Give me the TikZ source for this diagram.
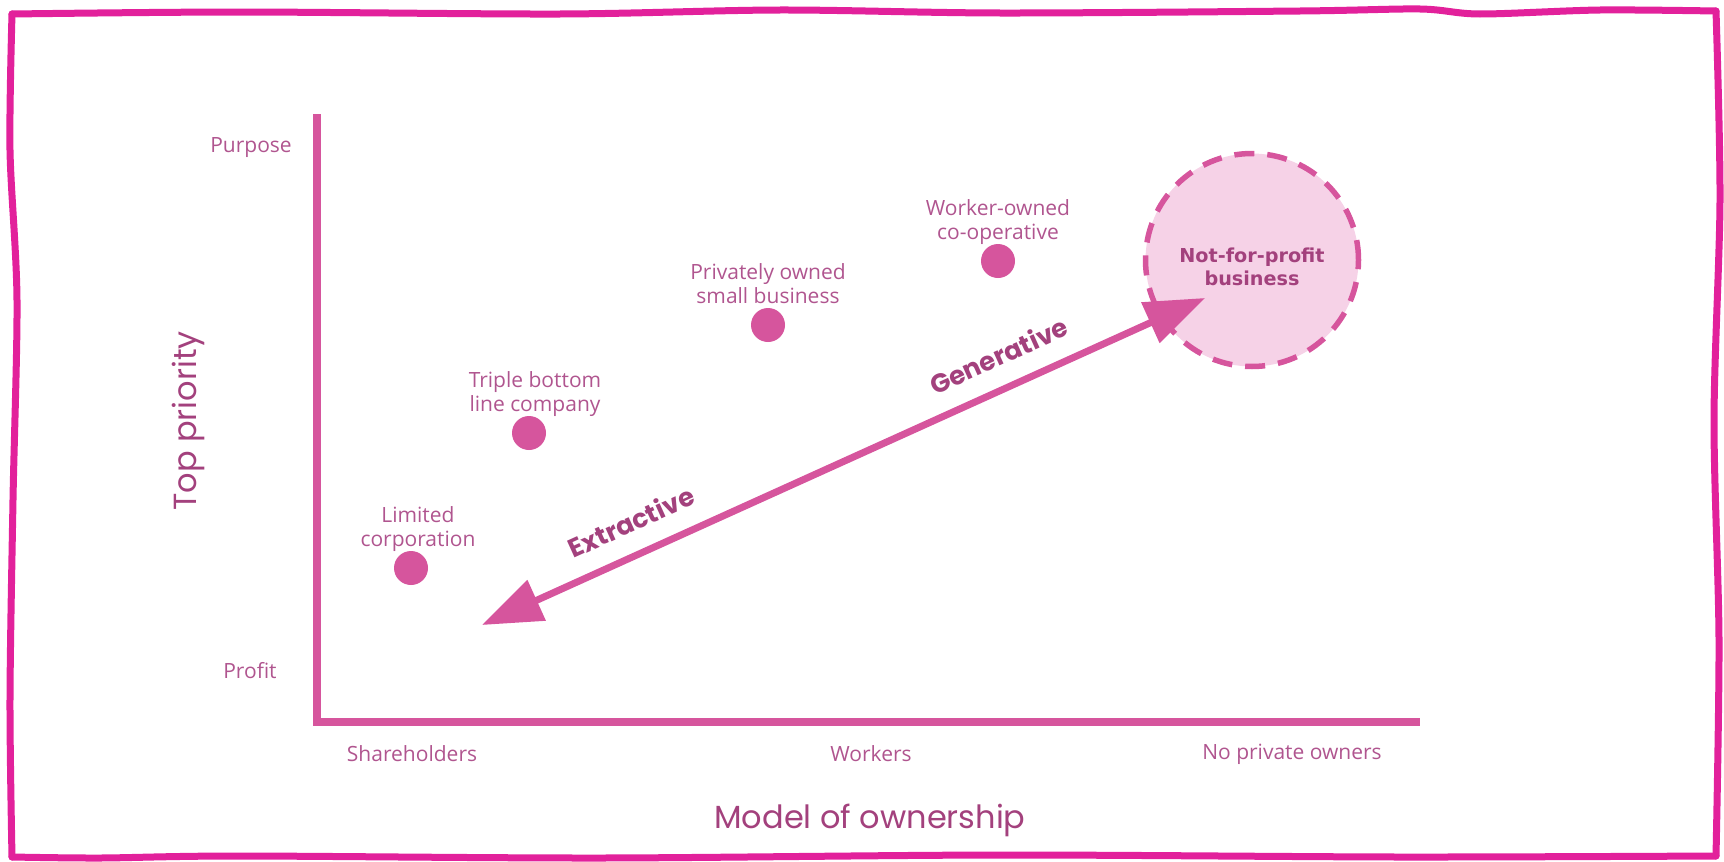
\documentclass[tikz,border=0pt]{standalone}
\usepackage{fontspec}
\setmainfont{Open Sans}
\newfontfamily\headfont{Poppins}
\newfontfamily\nfpfont{DejaVu Sans}
\usepackage{tikz}
\usetikzlibrary{shapes,arrows,arrows.meta,positioning}
\definecolor{framepink}{HTML}{E2219B}
\definecolor{axispink}{HTML}{D6559D}
\definecolor{labelmauve}{HTML}{B0558F}
\definecolor{titlemauve}{HTML}{A3417D}
\definecolor{nfpfill}{HTML}{F6D2E7}
\tikzset{
	dot/.style={circle,fill=axispink,minimum size=17pt,inner sep=0pt},
	lbl/.style={text=labelmauve,align=center,inner sep=0pt,text depth=0pt,font=\fontsize{10.5}{12}\selectfont},
	ticklbl/.style={text=labelmauve,font=\fontsize{10.5}{12}\selectfont},
	axistitle/.style={text=titlemauve,font=\headfont\fontsize{16}{19}\selectfont},
	flowlbl/.style={text=titlemauve,font=\headfont\bfseries\fontsize{13}{15}\selectfont},
	axisline/.style={draw=axispink,line width=4.25pt},
	flow/.style={draw=axispink,line width=3.5pt,{Triangle[length=30pt,width=21.5pt]}-{Triangle[length=30pt,width=21.5pt]}},
	nfp/.style={circle,fill=nfpfill,draw=axispink,line width=2.75pt,dash pattern=on 10pt off 6.5pt,minimum size=106.5pt},
	nfptext/.style={align=center,text=titlemauve,font=\nfpfont\bfseries\fontsize{9.6}{11.5}\selectfont},
	frameline/.style={draw=framepink,line width=3.5pt,line cap=round,line join=round}
}
\begin{document}
\begin{tikzpicture}[x=0.5pt,y=-0.5pt]
				\useasboundingbox (0,0) rectangle (1724,862);
				% hand drawn frame
				\draw[frameline] plot[smooth] coordinates {(12,14) (240,12) (560,14) (780,10) (1000,13) (1300,11) (1420,9) (1480,14) (1600,10) (1716,11)};
				\draw[frameline] plot[smooth] coordinates {(1716,11) (1720,200) (1714,420) (1719,640) (1716,856)};
				\draw[frameline] plot[smooth] coordinates {(1716,856) (1400,857) (1000,855) (600,858) (240,856) (100,858) (12,857)};
				\draw[frameline] plot[smooth] coordinates {(12,857) (10,700) (13,500) (17,300) (10,150) (12,14)};
				% axes
				\path (317,114) coordinate (ytop) ;
				\path (317,722) coordinate (orig) ;
				\path (1420,722) coordinate (xend) ;
				\draw[axisline] (ytop)--(orig)--(xend);
				\node[ticklbl] (purpose) at (251,148) {Purpose};
				\node[ticklbl] (profit) at (250,671) {Profit};
				\node[ticklbl] (share) at (412,754) {Shareholders};
				\node[ticklbl] (workers) at (871,754) {Workers};
				\node[ticklbl] (noown) at (1292,754) {No private owners};
				\node[axistitle,rotate=90] (toppri) at (188,421) {Top priority};
				\node[axistitle] (model) at (870,820) {Model of ownership};
				% businesses
				\node[dot] (ltd) at (411,568) {};
				\node[dot] (tbl) at (529,433) {};
				\node[dot] (pso) at (768,325) {};
				\node[dot] (woc) at (998,261) {};
				\node[lbl,above=2pt of ltd,xshift=3.5pt] (ltdlbl) {Limited\\corporation};
				\node[lbl,above=2pt of tbl,xshift=3pt] (tbllbl) {Triple bottom\\line company};
				\node[lbl,above=2pt of pso] (psolbl) {Privately owned\\small business};
				\node[lbl,above=2pt of woc] (woclbl) {Worker-owned\\co-operative};
				\node[nfp] (nfp) at (1252,260) {};
				\node[nfptext] (nfplbl) at ([yshift=-3.5pt]nfp.center) {Not-for-profit\\business};
				% extractive / generative
				\path (482,625) coordinate (ext) ;
				\path (1205,298) coordinate (gen) ;
				\draw[flow] (ext)--(gen)
					node[flowlbl,pos=.225,sloped,above=6pt] (extlbl) {Extractive}
					node[flowlbl,pos=.733,sloped,above=6pt] (genlbl) {Generative};
\end{tikzpicture}
\end{document}
